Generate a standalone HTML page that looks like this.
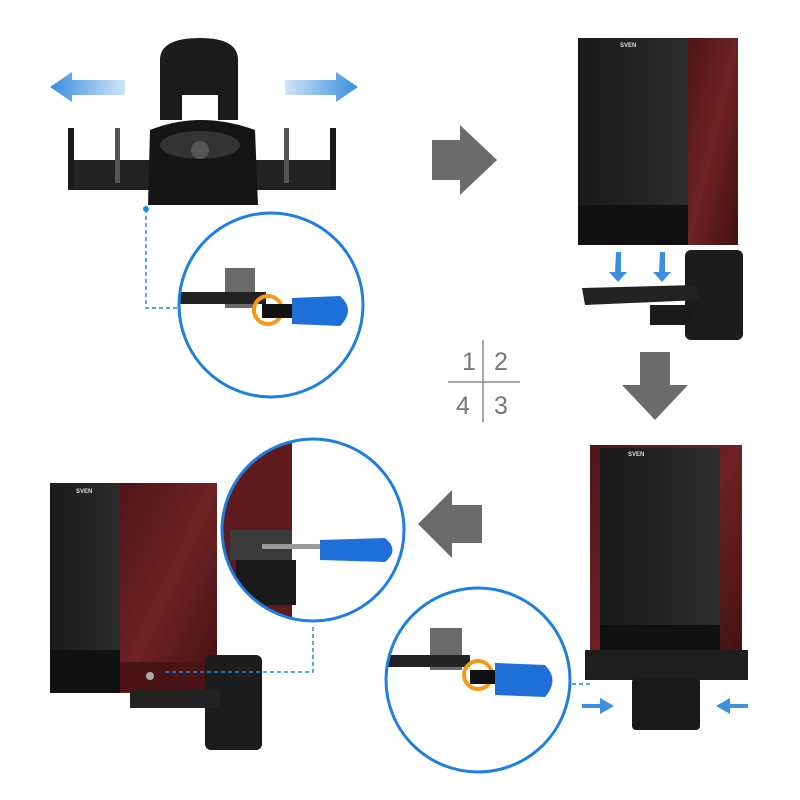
<!DOCTYPE html>
<html><head><meta charset="utf-8"><style>
html,body{margin:0;padding:0;background:#fff;}
svg{display:block;}
text{font-family:"Liberation Sans",sans-serif;}
</style></head><body>
<svg width="800" height="800" viewBox="0 0 800 800" xmlns="http://www.w3.org/2000/svg">
<defs>
<linearGradient id="wood" x1="0" x2="1" y1="0" y2="1">
<stop offset="0" stop-color="#4f1517"/><stop offset=".5" stop-color="#6e2224"/><stop offset="1" stop-color="#421012"/></linearGradient>
<linearGradient id="blk" x1="0" x2="1"><stop offset="0" stop-color="#1a1a1a"/><stop offset="1" stop-color="#2c2c2c"/></linearGradient>
<linearGradient id="barL" x1="0" x2="1"><stop offset="0" stop-color="#3a8fe0"/><stop offset="1" stop-color="#cfe3f7"/></linearGradient>
<linearGradient id="barR" x1="1" x2="0"><stop offset="0" stop-color="#3a8fe0"/><stop offset="1" stop-color="#cfe3f7"/></linearGradient>
<clipPath id="c1"><circle cx="271" cy="305" r="91"/></clipPath>
<clipPath id="c3"><circle cx="478" cy="680" r="91"/></clipPath>
<clipPath id="c4"><circle cx="313" cy="530" r="90"/></clipPath>
</defs>
<rect width="800" height="800" fill="#fff"/>

<!-- Panel 1 bracket -->
<polygon points="50,87 72,72 72,80 125,80 125,95 72,95 72,102" fill="url(#barL)"/>
<polygon points="358,87 336,72 336,80 285,80 285,95 336,95 336,102" fill="url(#barR)"/>
<path d="M160,60 Q160,38 200,38 Q238,38 238,60 L238,120 L218,120 L218,95 L182,95 L182,120 L160,120 Z" fill="#1c1c1c"/>
<rect x="68" y="160" width="268" height="30" fill="#222"/>
<rect x="68" y="128" width="6" height="60" fill="#1a1a1a"/>
<rect x="330" y="128" width="6" height="60" fill="#1a1a1a"/>
<rect x="115" y="128" width="5" height="55" fill="#555"/>
<rect x="284" y="128" width="5" height="55" fill="#555"/>
<path d="M150,130 Q200,110 255,130 L258,205 L148,205 Z" fill="#151515"/>
<ellipse cx="200" cy="145" rx="40" ry="14" fill="#333"/>
<circle cx="200" cy="150" r="9" fill="#555"/>

<circle cx="146" cy="209" r="3" fill="#1e88e5"/>
<polyline points="146,209 146,308 180,308" fill="none" stroke="#1e88e5" stroke-width="1.5" stroke-dasharray="4,3"/>

<!-- Circle 1 -->
<circle cx="271" cy="305" r="92" fill="#fff"/>
<g clip-path="url(#c1)">
<rect x="225" y="268" width="30" height="40" fill="#6a6a6a"/>
<rect x="175" y="292" width="91" height="12" fill="#222"/>
<circle cx="268" cy="310" r="14" fill="none" stroke="#f29a1a" stroke-width="4"/>
<rect x="262" y="304" width="30" height="14" fill="#111"/>
<path d="M292,298 L340,296 Q356,310 340,326 L292,324 Z" fill="#1f6fd8"/>
</g>
<circle cx="271" cy="305" r="92" fill="none" stroke="#1e7fe0" stroke-width="3"/>

<polygon points="432,140 460,140 460,125 497,160 460,195 460,180 432,180" fill="#6b6b6b"/>

<!-- Panel 2 speaker -->
<rect x="578" y="38" width="112" height="207" fill="url(#blk)"/>
<rect x="578" y="205" width="112" height="40" fill="#111"/>
<rect x="688" y="38" width="50" height="207" fill="url(#wood)"/>
<text x="620" y="47" font-size="6" fill="#ddd" font-weight="bold">SVEN</text>
<polygon points="616,252 621,252 621,272 627,272 618,282 609,272 615,272" fill="#3d8fe0"/>
<polygon points="660,252 665,252 665,272 671,272 662,282 653,272 659,272" fill="#3d8fe0"/>
<rect x="685" y="250" width="58" height="90" rx="6" fill="#1c1c1c"/>
<polygon points="582,288 695,285 700,300 585,305" fill="#222"/>
<rect x="650" y="305" width="40" height="20" fill="#1a1a1a"/>

<polygon points="640,352 670,352 670,385 688,385 655,420 622,385 640,385" fill="#6b6b6b"/>

<line x1="448" y1="382" x2="520" y2="382" stroke="#888" stroke-width="1.5"/>
<line x1="483" y1="340" x2="483" y2="422" stroke="#888" stroke-width="1.5"/>
<text x="462" y="370" font-size="25" fill="#777">1</text>
<text x="494" y="370" font-size="25" fill="#777">2</text>
<text x="456" y="414" font-size="25" fill="#777">4</text>
<text x="494" y="414" font-size="25" fill="#777">3</text>

<polygon points="482,505 452,505 452,490 418,524 452,558 452,543 482,543" fill="#6b6b6b"/>

<!-- Panel 3 speaker -->
<rect x="590" y="445" width="152" height="220" fill="url(#wood)"/>
<rect x="600" y="448" width="120" height="215" fill="url(#blk)"/>
<rect x="600" y="625" width="120" height="40" fill="#111"/>
<text x="628" y="456" font-size="6" fill="#ddd" font-weight="bold">SVEN</text>
<rect x="585" y="650" width="163" height="30" fill="#1e1e1e"/>
<rect x="632" y="678" width="68" height="52" rx="4" fill="#1a1a1a"/>
<polygon points="582,704 600,704 600,698 614,706 600,714 600,708 582,708" fill="#3d8fe0"/>
<polygon points="748,704 730,704 730,698 716,706 730,714 730,708 748,708" fill="#3d8fe0"/>
<polyline points="565,684 590,684" stroke="#1e88e5" stroke-width="1.5" stroke-dasharray="4,3"/>

<!-- Circle 3 -->
<circle cx="478" cy="680" r="92" fill="#fff"/>
<g clip-path="url(#c3)">
<rect x="430" y="628" width="32" height="42" fill="#6a6a6a"/>
<rect x="385" y="655" width="85" height="12" fill="#222"/>
<circle cx="478" cy="675" r="14" fill="none" stroke="#f29a1a" stroke-width="4"/>
<rect x="470" y="670" width="28" height="14" fill="#111"/>
<path d="M495,663 L545,665 Q560,680 545,697 L495,695 Z" fill="#1f6fd8"/>
</g>
<circle cx="478" cy="680" r="92" fill="none" stroke="#1e7fe0" stroke-width="3"/>

<!-- Panel 4 speaker -->
<rect x="50" y="483" width="72" height="210" fill="url(#blk)"/>
<rect x="50" y="650" width="72" height="43" fill="#111"/>
<rect x="120" y="483" width="97" height="210" fill="url(#wood)"/>
<rect x="120" y="662" width="97" height="30" fill="#4a1416"/>
<circle cx="150" cy="676" r="4" fill="#aaa"/>
<text x="76" y="493" font-size="6" fill="#ddd" font-weight="bold">SVEN</text>
<rect x="205" y="655" width="57" height="95" rx="6" fill="#1c1c1c"/>
<rect x="130" y="690" width="90" height="18" fill="#222"/>
<polyline points="165,672 313,672 313,625" fill="none" stroke="#1e88e5" stroke-width="1.5" stroke-dasharray="4,3"/>

<!-- Circle 4 -->
<circle cx="313" cy="530" r="91" fill="#fff"/>
<g clip-path="url(#c4)">
<rect x="220" y="435" width="72" height="190" fill="#5e1a1c"/>
<rect x="230" y="530" width="62" height="30" fill="#3a3a3a"/>
<rect x="236" y="560" width="60" height="45" fill="#1a1a1a"/>
<rect x="262" y="544" width="60" height="5" fill="#999"/>
<path d="M320,540 L385,538 Q400,550 385,562 L320,560 Z" fill="#1f6fd8"/>
</g>
<circle cx="313" cy="530" r="91" fill="none" stroke="#1e7fe0" stroke-width="3"/>
</svg>
</body></html>
